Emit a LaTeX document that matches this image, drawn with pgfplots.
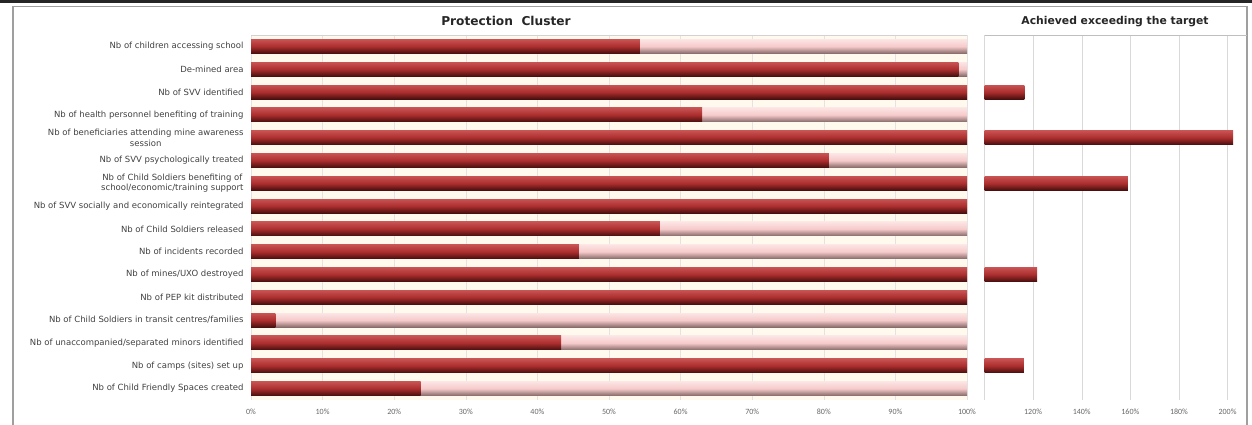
\documentclass[border=0pt]{standalone}
\usepackage{pgfplots}
\pgfplotsset{compat=1.18}
\usepackage{fontspec}
\setmainfont{DejaVu Sans}
\newfontfamily\tickfont{Carlito}
\definecolor{barTop}{RGB}{200,82,82}
\definecolor{barMid}{RGB}{172,46,46}
\definecolor{barBot}{RGB}{72,14,14}
\definecolor{pinkTop}{RGB}{252,228,228}
\definecolor{pinkMid}{RGB}{246,202,202}
\definecolor{pinkBot}{RGB}{135,105,105}
\definecolor{cream}{RGB}{255,249,238}
\pgfplotsset{
  darkbar/.style={draw=none, bar shift=0pt, top color=barTop, bottom color=barBot, middle color=barMid},
  pinkbar/.style={draw=none, bar shift=0pt, top color=pinkTop, bottom color=pinkBot, middle color=pinkMid},
}
\begin{document}
\begin{tikzpicture}[x=1pt,y=1pt]
\useasboundingbox (0pt,0pt) rectangle (1252pt,-425pt);
\fill[black!85] (0pt,0pt) rectangle (1252pt,-3pt);
\draw[gray!75, line width=1.3pt] (13pt,-426pt) -- (13pt,-6.5pt) -- (1247pt,-6.5pt) -- (1247pt,-426pt);
\node[font=\bfseries\fontsize{12.2}{13}\selectfont, text=black!85] at (506pt,-21pt) {Protection\ \ Cluster};
\node[font=\bfseries\fontsize{10.8}{12}\selectfont, text=black!85] at (1115pt,-22pt) {Achieved exceeding the target};
\begin{axis}[
  at={(251pt,-400pt)}, anchor=south west, scale only axis,
  width=716pt, height=365pt,
  xbar, bar width=14pt,
  xmin=0, xmax=100, ymin=0.5, ymax=16.5, y dir=reverse,
  ytick={1,...,16},
  yticklabels={
    Nb of children accessing school,
    De-mined area,
    Nb of SVV identified,
    Nb of health personnel benefiting of training,
    {Nb of beneficiaries attending mine awareness\\session},
    Nb of SVV psychologically treated,
    {Nb of Child Soldiers benefiting of\\school/economic/training support},
    Nb of SVV socially and economically reintegrated,
    Nb of Child Soldiers released,
    Nb of incidents recorded,
    Nb of mines/UXO destroyed,
    Nb of PEP kit distributed,
    Nb of Child Soldiers in transit centres/families,
    Nb of unaccompanied/separated minors identified,
    Nb of camps (sites) set up,
    Nb of Child Friendly Spaces created},
  yticklabel style={align=center, font=\fontsize{8.5}{10.5}\selectfont, text=black!75, xshift=-4pt},
  xtick={0,10,...,100},
  xticklabels={0\%,10\%,20\%,30\%,40\%,50\%,60\%,70\%,80\%,90\%,100\%},
  xticklabel style={font=\tickfont\fontsize{8}{9}\selectfont, text=black!60, yshift=-5pt, text height=6pt, text depth=1pt},
  xmajorgrids, grid style={gray!22},
  axis line style={draw=none}, major tick length=0,
  axis background/.style={fill=cream},
]
% target (100%) bars
\addplot[pinkbar] coordinates {(100,1)};
\addplot[pinkbar] coordinates {(100,2)};
\addplot[pinkbar] coordinates {(100,4)};
\addplot[pinkbar] coordinates {(100,6)};
\addplot[pinkbar] coordinates {(100,9)};
\addplot[pinkbar] coordinates {(100,10)};
\addplot[pinkbar] coordinates {(100,13)};
\addplot[pinkbar] coordinates {(100,14)};
\addplot[pinkbar] coordinates {(100,16)};
% achieved bars
\addplot[darkbar] coordinates {(54.3,1)};
\addplot[darkbar] coordinates {(98.8,2)};
\addplot[darkbar] coordinates {(100,3)};
\addplot[darkbar] coordinates {(63.0,4)};
\addplot[darkbar] coordinates {(100,5)};
\addplot[darkbar] coordinates {(80.7,6)};
\addplot[darkbar] coordinates {(100,7)};
\addplot[darkbar] coordinates {(100,8)};
\addplot[darkbar] coordinates {(57.1,9)};
\addplot[darkbar] coordinates {(45.8,10)};
\addplot[darkbar] coordinates {(100,11)};
\addplot[darkbar] coordinates {(100,12)};
\addplot[darkbar] coordinates {(3.4,13)};
\addplot[darkbar] coordinates {(43.3,14)};
\addplot[darkbar] coordinates {(100,15)};
\addplot[darkbar] coordinates {(23.7,16)};
\draw[gray!35] (rel axis cs:0,1) -- (rel axis cs:1,1);
\end{axis}
\begin{axis}[
  at={(984.5pt,-400pt)}, anchor=south west, scale only axis,
  width=262.5pt, height=365pt,
  xbar, bar width=14pt,
  xmin=100, xmax=208, ymin=0.5, ymax=16.5, y dir=reverse,
  ytick=\empty,
  xtick={100,120,...,200},
  xticklabels={,120\%,140\%,160\%,180\%,200\%},
  xticklabel style={font=\tickfont\fontsize{8}{9}\selectfont, text=black!60, yshift=-5pt, text height=6pt, text depth=1pt},
  xmajorgrids, grid style={gray!30},
  axis line style={draw=none}, major tick length=0,
]
\addplot[darkbar] coordinates {(116.4,3)};
\addplot[darkbar] coordinates {(202.3,5)};
\addplot[darkbar] coordinates {(159.0,7)};
\addplot[darkbar] coordinates {(121.6,11)};
\addplot[darkbar] coordinates {(116.2,15)};
\draw[gray!50] (rel axis cs:0,1) -- (rel axis cs:1,1);
\end{axis}
\end{tikzpicture}
\end{document}
